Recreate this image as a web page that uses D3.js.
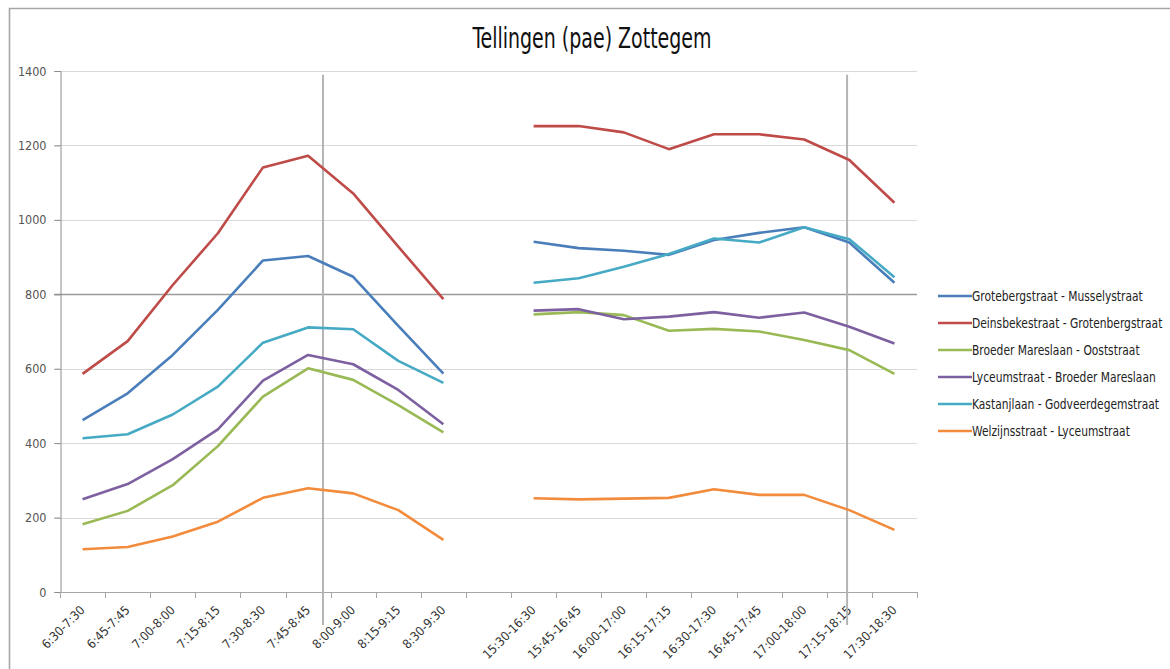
<!DOCTYPE html>
<html>
<head>
<meta charset="utf-8">
<script src="https://cdn.jsdelivr.net/npm/d3@7"></script>
<style>
  html, body { margin: 0; padding: 0; background: #fff; }
  svg { display: block; }
  text { font-family: "Liberation Sans Narrow", "DejaVu Sans Condensed", "Arial Narrow", sans-serif; }
</style>
</head>
<body>
<script>
// ---- data ----
const title = "Tellingen (pae) Zottegem";
const categories = [
  "6:30-7:30","6:45-7:45","7:00-8:00","7:15-8:15","7:30-8:30","7:45-8:45","8:00-9:00","8:15-9:15","8:30-9:30",
  "",
  "15:30-16:30","15:45-16:45","16:00-17:00","16:15-17:15","16:30-17:30","16:45-17:45","17:00-18:00","17:15-18:15","17:30-18:30"
];
const yTicks = [0, 200, 400, 600, 800, 1000, 1200, 1400];
const seriesNames = [
  "Grotebergstraat - Musselystraat",
  "Deinsbekestraat - Grotenbergstraat",
  "Broeder Mareslaan - Ooststraat",
  "Lyceumstraat - Broeder Mareslaan",
  "Kastanjlaan - Godveerdegemstraat",
  "Welzijnsstraat - Lyceumstraat"
];
const grotebergstraat = [462, 534, 637, 758, 891, 903, 847, 715, 587, null, 941, 924, 917, 906, 946, 965, 980, 939, 831];
const deinsbekestraat = [586, 674, 825, 964, 1141, 1172, 1071, 928, 787, null, 1252, 1252, 1235, 1190, 1230, 1230, 1216, 1161, 1046];
const broederMareslaan = [182, 218, 287, 392, 525, 601, 570, 502, 429, null, 746, 752, 744, 702, 707, 700, 677, 650, 586];
const lyceumstraat = [249, 290, 357, 437, 568, 637, 612, 543, 451, null, 756, 760, 733, 740, 752, 737, 751, 713, 668];
const kastanjlaan = [413, 424, 477, 552, 670, 711, 706, 621, 562, null, 831, 843, 874, 908, 950, 939, 980, 948, 846];
const welzijnsstraat = [115, 121, 149, 189, 253, 279, 265, 220, 140, null, 252, 249, 251, 253, 276, 261, 261, 220, 167];
const seriesValues = [grotebergstraat, deinsbekestraat, broederMareslaan, lyceumstraat, kastanjlaan, welzijnsstraat];
const seriesColors = ["#4A7EBB", "#BE4B48", "#98B954", "#7D60A0", "#46AAC5", "#F38B3C"];
// vertical reference markers: category and position within its band
const markerCats = ["7:45-8:45", "17:15-18:15"];
const markerFrac = [0.83, 0.45];
const highlightValue = 800;

// ---- layout ----
const W = 1170, H = 669;
const plot = { left: 60, right: 917, top: 71, bottom: 592 };

const svg = d3.select("body").append("svg").attr("width", W).attr("height", H);

// outer frame
svg.append("path")
  .attr("d", `M9.5,${H + 5} L9.5,8.5 L${W + 5},8.5`)
  .attr("fill", "none").attr("stroke", "#a6a6a6").attr("stroke-width", 1.6);

// title (tall condensed face)
svg.append("text")
  .attr("x", 592).attr("y", 48)
  .attr("text-anchor", "middle")
  .attr("font-size", 28).attr("fill", "#111")
  .attr("textLength", 239).attr("lengthAdjust", "spacingAndGlyphs")
  .text(title);

const x = d3.scaleBand().domain(d3.range(categories.length)).range([plot.left, plot.right]).padding(0);
const y = d3.scaleLinear().domain([0, 1400]).range([plot.bottom, plot.top]);
const cx = i => x(i) + x.bandwidth() / 2;

// gridlines
svg.append("g").selectAll("line").data(yTicks.filter(v => v > 0)).join("line")
  .attr("x1", plot.left - 6).attr("x2", plot.right)
  .attr("y1", d => Math.round(y(d)) + 0.5).attr("y2", d => Math.round(y(d)) + 0.5)
  .attr("stroke", d => d === highlightValue ? "#9a9a9a" : "#d9d9d9")
  .attr("stroke-width", d => d === highlightValue ? 1.3 : 1);

// y axis
const yAxis = d3.axisLeft(y).tickValues(yTicks).tickSize(6).tickPadding(8).tickFormat(d3.format("d"));
const gy = svg.append("g").attr("transform", `translate(${plot.left + 0.5},0)`).call(yAxis);
gy.select(".domain").attr("stroke", "#8c8c8c");
gy.selectAll(".tick line").attr("stroke", "#8c8c8c");
gy.selectAll(".tick text").attr("font-size", 12.5).attr("fill", "#555")
  .style("font-family", "'Liberation Sans Narrow', 'DejaVu Sans Condensed', sans-serif");

// x axis line + ticks at band boundaries
svg.append("line")
  .attr("x1", plot.left).attr("x2", plot.right)
  .attr("y1", plot.bottom + 0.5).attr("y2", plot.bottom + 0.5)
  .attr("stroke", "#a6a6a6");
const boundaries = d3.range(categories.length + 1).map(i => i < categories.length ? x(i) : x(i - 1) + x.bandwidth());
svg.append("g").selectAll("line").data(boundaries).join("line")
  .attr("x1", d => Math.round(d) + 0.5).attr("x2", d => Math.round(d) + 0.5)
  .attr("y1", plot.bottom).attr("y2", plot.bottom + 6)
  .attr("stroke", "#a6a6a6");

// x labels
svg.append("g").selectAll("text").data(categories).join("text")
  .attr("transform", (d, i) => `translate(${cx(i) + 3},${plot.bottom + 19}) rotate(-45)`)
  .attr("text-anchor", "end")
  .attr("font-size", 12.5).attr("fill", "#333")
  .text(d => d);

// vertical reference lines
svg.append("g").selectAll("line").data(markerCats).join("line")
  .attr("x1", (d, i) => x(categories.indexOf(d)) + x.bandwidth() * markerFrac[i])
  .attr("x2", (d, i) => x(categories.indexOf(d)) + x.bandwidth() * markerFrac[i])
  .attr("y1", y(1390)).attr("y2", plot.bottom + 33)
  .attr("stroke", "#b4b4b4").attr("stroke-width", 2);

// lines
const line = d3.line()
  .defined(d => d != null)
  .x((d, i) => cx(i))
  .y(d => y(d));
svg.append("g").selectAll("path").data(seriesValues).join("path")
  .attr("d", d => line(d))
  .attr("fill", "none")
  .attr("stroke", (d, i) => seriesColors[i])
  .attr("stroke-width", 2.6)
  .attr("stroke-linejoin", "round");

// legend
const lg = svg.append("g").attr("transform", "translate(938,296)");
const rows = lg.selectAll("g").data(seriesNames).join("g")
  .attr("transform", (d, i) => `translate(0,${i * 27})`);
rows.append("line").attr("x1", 0).attr("x2", 34).attr("y1", 0).attr("y2", 0)
  .attr("stroke", (d, i) => seriesColors[i]).attr("stroke-width", 2.6);
rows.append("text")
  .attr("transform", "translate(34,5) scale(0.85,1)")
  .attr("font-size", 14).attr("fill", "#222")
  .text(d => d);
</script>
</body>
</html>
